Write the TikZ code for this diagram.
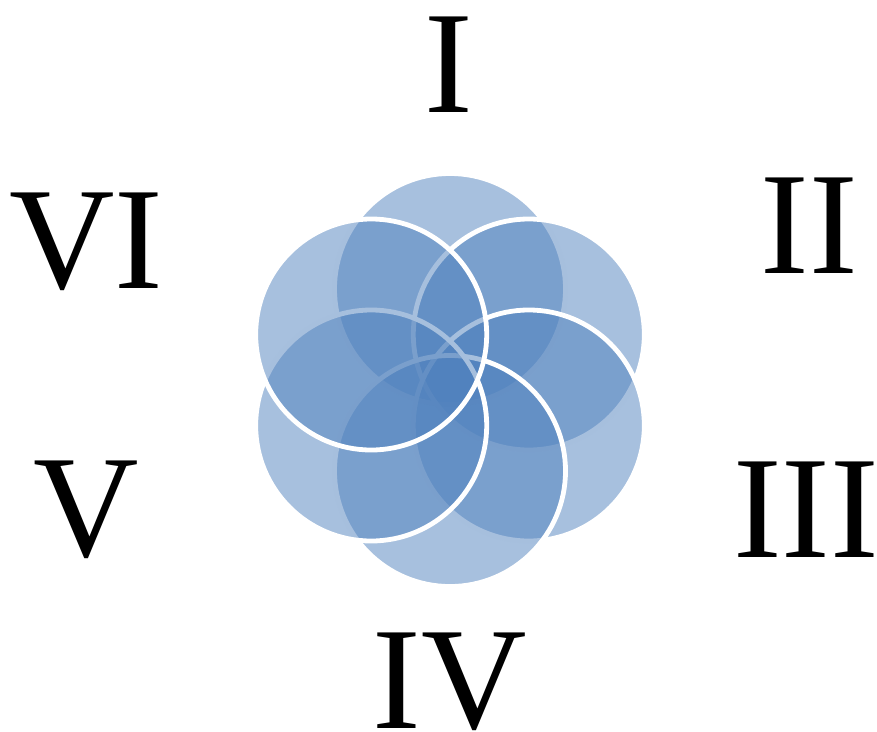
\documentclass[tikz,border=0pt]{standalone}
\usepackage{fontspec}
\setmainfont{Liberation Serif}
\definecolor{petalblue}{HTML}{4F81BD}
\begin{document}
\begin{tikzpicture}[x=1pt,y=-1pt,
  petal/.style={circle, minimum size=231pt, inner sep=0pt, outer sep=0pt,
    fill=petalblue, fill opacity=0.5, draw=white, draw opacity=1, line width=4.8pt},
  numeral/.style={font=\fontsize{146}{146}\selectfont, inner sep=0pt, anchor=base,
    text=black, text height=96pt, text depth=0pt}]
\useasboundingbox (0,0) rectangle (877,731);
% petals, drawn in pinwheel order
\node[petal] (ptop) at (450,289) {};
\node[petal] (pur)  at (528.8,334.5) {};
\node[petal] (plr)  at (528.8,425.5) {};
\node[petal] (pbot) at (450,471) {};
\node[petal] (pll)  at (371.2,425.5) {};
\node[petal] (pul)  at (371.2,334.5) {};
% numerals
\node[numeral] (n1) at (449,112) {I};
\node[numeral] (n2) at (809.5,273) {II};
\node[numeral] (n3) at (806,557) {III};
\node[numeral] (n4) at (450,728) {IV};
\node[numeral] (n5) at (86.5,556) {V};
\node[numeral] (n6) at (86.5,288) {VI};
\end{tikzpicture}
\end{document}
